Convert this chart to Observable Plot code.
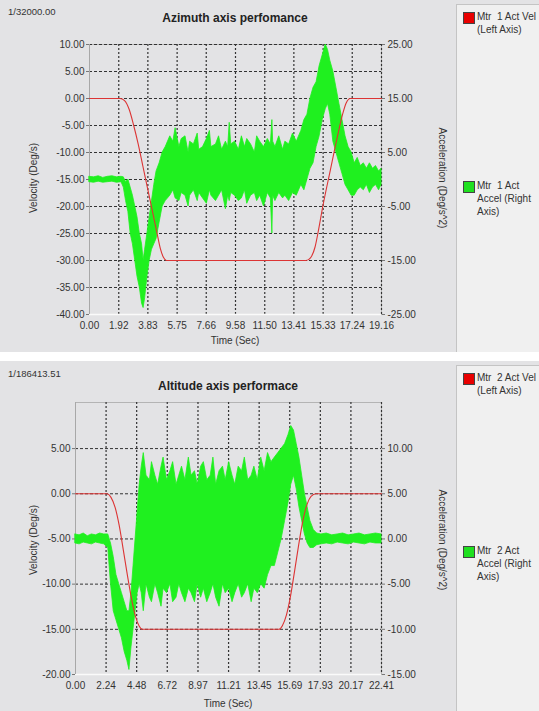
<!DOCTYPE html>
<html><head><meta charset="utf-8">
<script src="https://cdn.jsdelivr.net/npm/d3@7"></script>
<script src="https://cdn.jsdelivr.net/npm/@observablehq/plot@0.6"></script>
<style>
body{margin:0;background:#fff;font-family:"Liberation Sans",Arial,sans-serif;}
#page{position:relative;width:539px;height:711px;overflow:hidden;background:#fff;}
.panel{position:absolute;left:0;width:539px;background:#e3e3e5;overflow:hidden;}
.panel svg{position:absolute;left:0;top:0;}
.corner{position:absolute;font-size:9.5px;color:#333;}
.title{position:absolute;font-size:12px;font-weight:bold;color:#222;text-align:center;}
.lab{position:absolute;font-size:10px;color:#333;white-space:nowrap;transform:translate(-50%,-50%);}
.legend{position:absolute;left:456px;width:90px;background:#f0f0f0;border-left:1px solid #c4c4c4;border-top:1px solid #c4c4c4;}
.sw{position:absolute;left:6px;width:10px;height:10px;border:1px solid #444;}
.lt{position:absolute;left:20px;font-size:10px;line-height:13px;color:#333;white-space:nowrap;}
</style></head><body>
<div id="page"></div>
<script>
// ---------- Top chart (Azimuth) ----------
const azXTicks = [0, 1.92, 3.83, 5.75, 7.66, 9.58, 11.50, 13.41, 15.33, 17.24, 19.16];
const azLeftTicks = [10, 5, 0, -5, -10, -15, -20, -25, -30, -35, -40];
const azRightTicks = [25, 15, 5, -5, -15, -25];
const azVelT = [0, 2.0, 2.3, 2.6, 2.9, 3.2, 3.5, 3.8, 4.1, 4.4, 4.65, 4.85, 5.05, 14.2, 14.5, 14.8, 15.05, 15.26, 15.8, 16.35, 16.6, 16.85, 17.1, 19.16];
const azVel = [0, 0, -0.4, -2, -5, -8.5, -12.5, -16.5, -20.5, -24.5, -27.8, -29.4, -30, -30, -29.5, -27.5, -24, -20.7, -13.3, -6, -3, -0.8, 0, 0];
const azAccT = [0, 0.3, 0.6, 0.9, 1.2, 1.5, 1.8, 2.1, 2.25, 2.4, 2.55, 2.7, 2.85, 3.0, 3.15, 3.3, 3.45, 3.55, 3.65, 3.8, 3.95, 4.1, 4.25, 4.4, 4.6, 4.8, 5.0, 5.3,
  5.5, 5.65, 5.9, 6.05, 6.3, 6.5, 6.6, 6.85, 7.1, 7.2, 7.45, 7.7, 7.9, 8.0, 8.3, 8.5, 8.7, 8.95, 9.1, 9.2, 9.3, 9.55, 9.8, 10.0, 10.2, 10.35, 10.6, 10.85, 11.0, 11.2,
  11.45, 11.7, 11.9, 12.0, 12.05, 12.2, 12.45, 12.7, 12.85, 13.1, 13.35, 13.6, 13.9,
  14.1, 14.3, 14.5, 14.7, 14.9, 15.1, 15.3, 15.5, 15.65, 15.8, 16.0, 16.2, 16.4, 16.6, 16.8, 17.0, 17.2, 17.4, 17.6, 17.8, 18.0, 18.2, 18.4, 18.6, 18.8, 19.0, 19.16];
const azAccHi = [0.5, 0.4, 0.6, 0.3, 0.5, 0.6, 0.4, 0.5, 0.4, -0.5, 0, -1.5, -3, -5, -7, -10, -12, -15, -13, -10, -7, -4, -1, 1.5, 3, 5, 6, 8,
  7, 9.5, 6, 7.5, 8, 5, 7, 6.5, 8.5, 5.5, 6, 7.5, 9, 6, 6.5, 8, 5.5, 7, 6, 10.5, 6.5, 7, 5.5, 8, 6, 7.5, 6.5, 5, 8, 7,
  6, 7.5, 6.5, 11, 7, 6, 8, 5.5, 7, 6.5, 8.5, 7, 9,
  11, 12, 15, 17, 18, 21, 23, 25, 24, 22, 20, 17, 14, 11, 8, 6, 5, 3, 4, 2.5, 3, 2, 3, 2, 2.5, 1.5, 2];
const azAccLo = [-0.5, -0.6, -0.4, -0.6, -0.5, -0.4, -0.6, -0.5, -1.5, -4, -6, -10, -12, -15, -18, -20, -23, -23.8, -22, -18, -15, -13, -12, -11, -8, -5, -4, -3,
  -2, -3.5, -4, -2.5, -3, -5, -3, -2, -4, -2.5, -3.5, -4.5, -2, -3, -4, -3, -2, -5.5, -3, -4, -2.5, -3, -4, -3.5, -2, -4.5, -3, -2.5, -4, -3,
  -5, -2.5, -3.5, -10, -3, -4, -2.5, -3.5, -3, -4, -2.5, -3, -1,
  -2, 0, 2, 3, 6, 8, 11, 13, 14, 12, 7, 5, 3, 1, -1, -2, -3, -3, -2, -1.5, -2, -1, -2.5, -1.5, -1, -2, -1];

// ---------- Bottom chart (Altitude) ----------
const alXTicks = [0, 2.24, 4.48, 6.72, 8.97, 11.21, 13.45, 15.69, 17.93, 20.17, 22.41];
const alLeftTicks = [5, 0, -5, -10, -15, -20];
const alRightTicks = [10, 5, 0, -5, -10, -15];
const alVelT = [0, 2.3, 2.6, 2.9, 3.2, 3.5, 3.8, 4.1, 4.4, 4.65, 4.9, 14.9, 15.15, 15.45, 15.75, 16.05, 16.35, 16.65, 16.95, 17.25, 17.6, 22.41];
const alVel = [0, 0, -0.4, -1.5, -3.5, -6.2, -9, -11.6, -13.6, -14.6, -15, -15, -14.6, -13.4, -11.3, -8.5, -5.6, -3, -1.2, -0.3, 0, 0];
const alAccT = [0, 0.3, 0.6, 0.9, 1.2, 1.5, 1.8, 2.1, 2.4, 2.6, 2.8, 3.0, 3.2, 3.4, 3.6, 3.8, 3.95, 4.1, 4.25, 4.4, 4.55, 4.7,
  4.85, 5.0, 5.2, 5.45, 5.6, 5.85, 6.05, 6.3, 6.45, 6.7, 6.95, 7.15, 7.4, 7.6, 7.8, 8.05, 8.3, 8.5, 8.75, 8.95, 9.2, 9.4, 9.65, 9.9, 10.1, 10.3, 10.55, 10.8, 11.0, 11.25,
  11.5, 11.7, 11.95, 12.2, 12.4, 12.65, 12.9, 13.1, 13.35, 13.6, 13.85, 14.1, 14.35,
  14.6, 14.85, 15.1, 15.35, 15.6, 15.8, 16.0, 16.2, 16.4, 16.6, 16.8, 17.0, 17.2, 17.45, 17.7, 18.0, 18.4, 18.8, 19.2, 19.6, 20.0, 20.4, 20.8, 21.2, 21.6, 22.0, 22.41];
const alAccHi = [0.5, 0.4, 0.6, 0.3, 0.5, 0.4, 0.6, 0.5, 0.5, -0.5, -2, -4, -5, -6, -7, -8, -8, -6, -3, 0, 3, 6,
  8, 9.5, 7, 6.5, 8.5, 7, 6, 8, 9, 6.5, 7.5, 8.5, 6, 7, 8, 6.5, 9, 7, 7.5, 6, 8, 8.5, 6.5, 7, 9, 6, 7.5, 8, 6.5, 8.5,
  7, 6, 8, 7.5, 9, 6.5, 7, 8, 6.5, 9, 7.5, 9.5, 8.5,
  9, 9.5, 10, 10.5, 11.5, 12.5, 12, 10.5, 9, 7, 5, 3.5, 2, 1, 0.6, 0.5, 0.6, 0.4, 0.5, 0.6, 0.4, 0.5, 0.6, 0.4, 0.5, 0.6, 0.5];
const alAccLo = [-0.5, -0.6, -0.4, -0.5, -0.6, -0.4, -0.5, -0.6, -1, -5, -8, -9, -10, -11, -12.5, -13.5, -14.5, -12, -10, -8, -6, -5,
  -6, -8, -5, -6.5, -7, -5, -6, -7.5, -5.5, -6, -5, -7, -6.5, -5, -6, -7, -5.5, -6, -7, -5, -6.5, -5.5, -7, -6, -5, -6.5, -7.5, -5, -6, -5.5,
  -7, -6, -5, -6.5, -6, -5, -7, -5.5, -6, -5, -5.5, -4, -3,
  -3, -1.5, 0, 2, 4, 6, 7, 5.5, 3.5, 2, 0.5, -0.5, -1, -1, -0.7, -0.6, -0.5, -0.6, -0.4, -0.5, -0.6, -0.4, -0.5, -0.6, -0.4, -0.5, -0.5];

const GREEN = "#1ff01f", RED = "#dc3434";
const page = document.getElementById("page");

function zip(ts, a, b) { return ts.map((t, i) => ({t, a: a[i], b: b ? b[i] : undefined})); }

function panel(cfg) {
  const div = document.createElement("div");
  div.className = "panel";
  div.style.top = cfg.top + "px";
  div.style.height = cfg.height + "px";
  page.appendChild(div);
  const off = cfg.offset; // right axis value = left value + offset
  const vel = zip(cfg.velT, cfg.vel);
  const acc = zip(cfg.accT, cfg.accLo, cfg.accHi);
  const xTicks = cfg.xTicks;
  const yMin = cfg.yDomain[0];
  const svg = Plot.plot({
    width: 455, height: cfg.height,
    marginLeft: cfg.ml, marginRight: 74, marginTop: cfg.mt, marginBottom: cfg.mb,
    style: {background: "transparent", fontFamily: "Liberation Sans, Arial, sans-serif", fontSize: "10px", color: "#333"},
    x: {domain: [0, xTicks[xTicks.length - 1]]},
    y: {domain: cfg.yDomain},
    marks: [
      Plot.frame({stroke: "#b4b4b4"}),
      Plot.ruleY(cfg.leftTicks.filter(d => d !== yMin), {stroke: "#333", strokeDasharray: "3,2", strokeWidth: 1}),
      Plot.ruleX(xTicks.slice(1), {stroke: "#333", strokeDasharray: "2,2", strokeWidth: 1.2}),
      Plot.ruleY([yMin], {stroke: "#fafafa", strokeWidth: 1.5}),
      Plot.ruleX([0], {stroke: "#a8a8a8"}),
      Plot.areaY(acc, {x: "t", y1: d => d.a - off, y2: d => d.b - off, fill: GREEN, stroke: GREEN, strokeWidth: 0.8}),
      Plot.line(vel, {x: "t", y: "a", stroke: RED, strokeWidth: 1.1, curve: "monotone-x"}),
      Plot.axisY({ticks: cfg.leftTicks, tickFormat: d => d.toFixed(2), tickSize: 3, tickPadding: 2, label: null, stroke: "#777"}),
      Plot.axisY({anchor: "right", ticks: cfg.rightTicks.map(v => v - off), tickFormat: d => (d + off).toFixed(2), tickSize: 3, tickPadding: 3, label: null, stroke: "#777"}),
      Plot.axisX({ticks: xTicks, tickFormat: d => d.toFixed(2), tickSize: 0, tickPadding: 7, label: null})
    ]
  });
  div.appendChild(svg);
  const px = cfg.ml, pw = 381 - cfg.ml;
  div.insertAdjacentHTML("beforeend", `
    <div class="corner" style="left:8px;top:${cfg.cornerTop}px">${cfg.corner}</div>
    <div class="title" style="left:${px}px;width:${pw}px;top:${cfg.titleTop}px">${cfg.title}</div>
    <div class="lab" style="left:33px;top:${cfg.yLabY}px;transform:translate(-50%,-50%) rotate(-90deg)">Velocity (Deg/s)</div>
    <div class="lab" style="left:442px;top:${cfg.yLabY}px;transform:translate(-50%,-50%) rotate(90deg)">Acceleration (Deg/s^2)</div>
    <div class="lab" style="left:${px + pw / 2}px;top:${cfg.xLabY}px">Time (Sec)</div>
    <div class="legend" style="top:${cfg.legTop}px;height:${cfg.height}px">
      <div class="sw" style="top:${cfg.sw1}px;background:#e80000"></div>
      <div class="lt" style="top:${cfg.sw1 - 2}px">${cfg.leg1}<br>(Left Axis)</div>
      <div class="sw" style="top:${cfg.sw2}px;background:#20e020"></div>
      <div class="lt" style="top:${cfg.sw2 - 2}px">${cfg.leg2}<br>Accel (Right<br>Axis)</div>
    </div>`);
}

panel({
  top: 0, height: 352, ml: 89, mt: 44, mb: 38, offset: 15,
  yDomain: [-40, 10], xTicks: azXTicks, leftTicks: azLeftTicks, rightTicks: azRightTicks,
  velT: azVelT, vel: azVel, accT: azAccT, accHi: azAccHi, accLo: azAccLo,
  corner: "1/32000.00", cornerTop: 6, title: "Azimuth axis perfomance", titleTop: 11,
  yLabY: 178, xLabY: 340, legTop: 4, sw1: 7, sw2: 176,
  leg1: "Mtr&nbsp; 1 Act Vel", leg2: "Mtr&nbsp; 1 Act"
});
panel({
  top: 361, height: 350, ml: 75, mt: 41, mb: 37, offset: 5,
  yDomain: [-20, 10.1], xTicks: alXTicks, leftTicks: alLeftTicks, rightTicks: alRightTicks,
  velT: alVelT, vel: alVel, accT: alAccT, accHi: alAccHi, accLo: alAccLo,
  corner: "1/186413.51", cornerTop: 7, title: "Altitude axis performace", titleTop: 18,
  yLabY: 179, xLabY: 342, legTop: 4, sw1: 7, sw2: 180,
  leg1: "Mtr&nbsp; 2 Act Vel", leg2: "Mtr&nbsp; 2 Act"
});
</script>
</body></html>
